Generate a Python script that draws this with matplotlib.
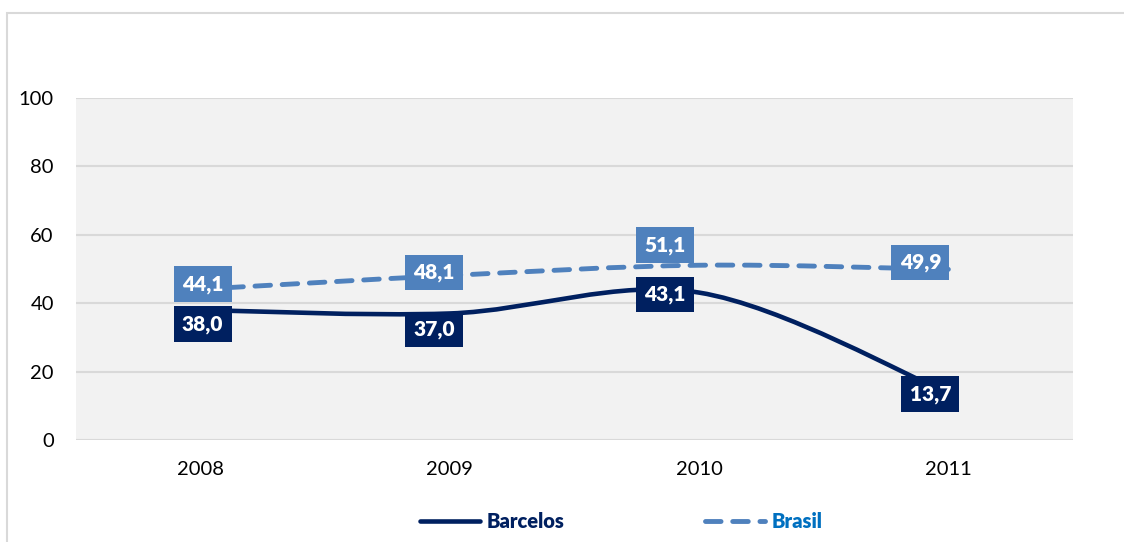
import numpy as np
import matplotlib.pyplot as plt
from matplotlib.path import Path
from matplotlib.patches import PathPatch, Rectangle
from matplotlib.lines import Line2D

plt.rcParams['font.family'] = ['Lato', 'DejaVu Sans']

years = ['2008', '2009', '2010', '2011']
barcelos = [38.0, 37.0, 43.1, 13.7]
brasil = [44.1, 48.1, 51.1, 49.9]

dark_blue = '#002060'
mid_blue = '#4f81bd'
legend_blue = '#0070c0'

# where each value label sits relative to its point, in pixels
barcelos_offsets = [(2, -14), (-16, -16), (-34, -2), (-18, -1)]
brasil_offsets = [(2, 5), (-16, 3), (-34, 20), (-28, 7)]


def smooth_path(xs, ys):
    # Catmull-Rom style Bezier segments, like a spreadsheet "smoothed line"
    pts = np.column_stack([xs, ys]).astype(float)
    n = len(pts)
    verts = [pts[0]]
    codes = [Path.MOVETO]
    for i in range(n - 1):
        p0 = pts[max(i - 1, 0)]
        p1 = pts[i]
        p2 = pts[i + 1]
        p3 = pts[min(i + 2, n - 1)]
        c1 = p1 + (p2 - p0) / 6
        c2 = p2 - (p3 - p1) / 6
        verts += [c1, c2, p2]
        codes += [Path.CURVE4] * 3
    return Path(verts, codes)


fig = plt.figure(figsize=(11.24, 5.42), dpi=100)
W, H = 1124, 542

# thin frame around the whole chart
fig.patches.append(Rectangle((7 / W, -0.1), 1.2, 1 - 13 / H + 0.1,
                             transform=fig.transFigure, fill=False,
                             edgecolor='#d9d9d9', linewidth=1.5))

ax = fig.add_axes([76 / W, (H - 440) / H, (1073 - 76) / W, (440 - 98) / H])
ax.set_facecolor('#f2f2f2')
x = np.arange(len(years))
ax.set_xlim(-0.5, len(years) - 0.5)
ax.set_ylim(0, 100)
ax.set_yticks(range(0, 101, 20))
ax.set_xticks(x)
ax.set_xticklabels(years)
ax.tick_params(length=0, labelsize=14.5, colors='#000000')
ax.tick_params(axis='y', pad=16)
ax.tick_params(axis='x', pad=15)
for s in ax.spines.values():
    s.set_visible(False)
ax.yaxis.grid(True, color='#d9d9d9', linewidth=1.5)
ax.set_axisbelow(True)

ax.add_patch(PathPatch(smooth_path(x, brasil), fill=False, edgecolor=mid_blue,
                       linewidth=3.5, linestyle=(0, (3.2, 2.4)),
                       capstyle='round', zorder=3))
ax.add_patch(PathPatch(smooth_path(x, barcelos), fill=False, edgecolor=dark_blue,
                       linewidth=3.3, capstyle='round', zorder=3))


def put_labels(values, offsets, color):
    for xi, v, (dx, dy) in zip(x, values, offsets):
        ax.annotate(f'{v:.1f}'.replace('.', ','), (xi, v),
                    xytext=(dx, dy), textcoords='offset pixels',
                    ha='center', va='center', fontsize=15,
                    fontweight='heavy', color='white', zorder=5,
                    bbox=dict(boxstyle='square,pad=0.4', facecolor=color,
                              edgecolor='none'))


put_labels(brasil, brasil_offsets, mid_blue)
put_labels(barcelos, barcelos_offsets, dark_blue)

handles = [Line2D([], [], color=dark_blue, linewidth=3.3, solid_capstyle='round'),
           Line2D([], [], color=mid_blue, linewidth=3.5, linestyle=(0, (3.2, 2.4)),
                  dash_capstyle='round')]
leg = fig.legend(handles, ['Barcelos', 'Brasil'], loc='center',
                 bbox_to_anchor=(621 / W, (H - 522) / H), ncol=2, frameon=False,
                 handlelength=3.0, handletextpad=0.3, columnspacing=7.0,
                 prop={'size': 14.5, 'weight': 'heavy'})
for txt, c in zip(leg.get_texts(), [dark_blue, legend_blue]):
    txt.set_color(c)

fig.savefig('out.png', dpi=100)
